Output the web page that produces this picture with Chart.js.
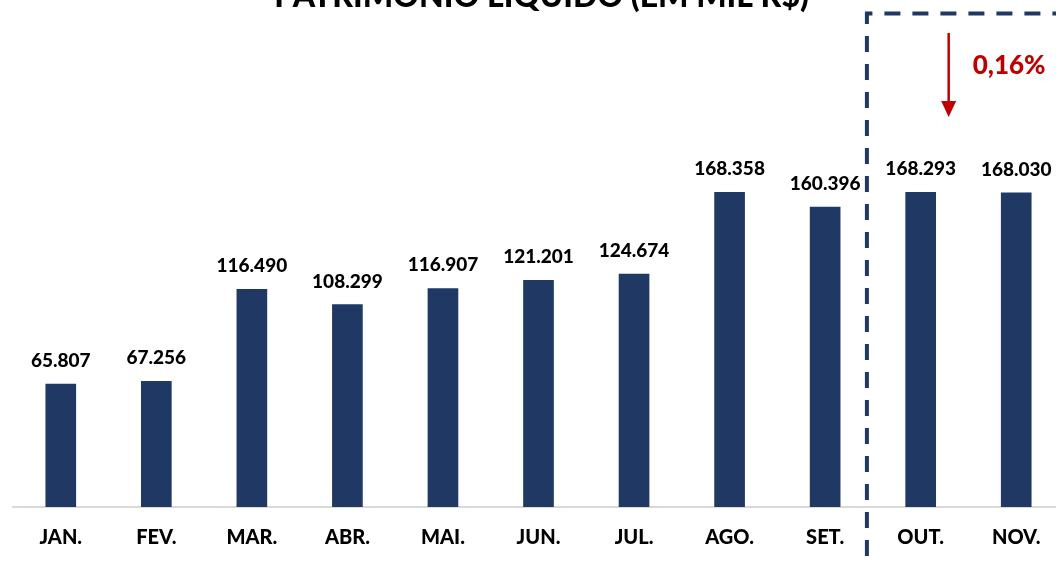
<!DOCTYPE html>
<html>
<head>
<meta charset="utf-8">
<script src="https://cdn.jsdelivr.net/npm/chart.js@4.4.1/dist/chart.umd.min.js"></script>
<style>
  html, body { margin: 0; padding: 0; background: #ffffff; overflow: hidden; }
  #wrap { position: absolute; left: 0; top: 0; width: 1064px; height: 567px; }
</style>
</head>
<body>
<div id="wrap"><canvas id="c" width="1064" height="567"></canvas></div>
<script>
const title = "PATRIMÔNIO LÍQUIDO (EM MIL R$)";
const categories = ["JAN.", "FEV.", "MAR.", "ABR.", "MAI.", "JUN.", "JUL.", "AGO.", "SET.", "OUT.", "NOV."];
const values = [65807, 67256, 116490, 108299, 116907, 121201, 124674, 168358, 160396, 168293, 168030];
const valueLabels = ["65.807", "67.256", "116.490", "108.299", "116.907", "121.201", "124.674", "168.358", "160.396", "168.293", "168.030"];
const changeLabel = "0,16%";
const highlightStart = 9; // first category inside dashed box

const NAVY = "#203864";
const RED = "#c00000";
const FONT = "Lato, 'Open Sans', sans-serif";
const W = "900";

const overlay = {
  id: "overlay",
  afterDatasetsDraw(chart) {
    const ctx = chart.ctx;
    const meta = chart.getDatasetMeta(0);
    const xs = chart.scales.x;
    const area = chart.chartArea;
    ctx.save();
    // value labels
    ctx.fillStyle = "#000000";
    ctx.font = W + " 19px " + FONT;
    ctx.textAlign = "center";
    ctx.textBaseline = "alphabetic";
    meta.data.forEach((bar, i) => {
      ctx.fillText(valueLabels[i], bar.x, bar.y - 17);
    });
    // title (mostly cut off at top)
    ctx.font = W + " 32px " + FONT;
    ctx.fillText(title, (area.left + area.right) / 2 + 3, 7);
    // dashed box
    const bx = xs.getPixelForValue(highlightStart - 0.5) - 6;
    const topY = 13.5;
    ctx.strokeStyle = NAVY;
    ctx.lineWidth = 4;
    ctx.setLineDash([16, 12]);
    ctx.beginPath();
    ctx.moveTo(bx, 556);
    ctx.lineTo(bx, topY);
    ctx.lineTo(chart.width + 5, topY);
    ctx.stroke();
    ctx.setLineDash([]);
    // arrow
    const ax = meta.data[highlightStart].x + 28;
    ctx.strokeStyle = RED;
    ctx.fillStyle = RED;
    ctx.lineWidth = 2.5;
    ctx.beginPath();
    ctx.moveTo(ax, 33);
    ctx.lineTo(ax, 102);
    ctx.stroke();
    ctx.beginPath();
    ctx.moveTo(ax - 7.5, 101);
    ctx.lineTo(ax + 7.5, 101);
    ctx.lineTo(ax, 117);
    ctx.closePath();
    ctx.fill();
    // change label
    ctx.font = W + " 26px " + FONT;
    ctx.textAlign = "left";
    ctx.textBaseline = "middle";
    ctx.fillText(changeLabel, ax + 24, 66);
    ctx.restore();
  }
};

new Chart(document.getElementById("c"), {
  type: "bar",
  data: {
    labels: categories,
    datasets: [{
      data: values,
      backgroundColor: NAVY,
      borderWidth: 0,
      barThickness: 30
    }]
  },
  options: {
    responsive: false,
    animation: false,
    layout: { padding: { left: 13, right: 0, top: 0, bottom: 0 } },
    plugins: { legend: { display: false }, tooltip: { enabled: false }, title: { display: false } },
    scales: {
      x: {
        grid: { display: false, drawTicks: false },
        border: { display: true, color: "#d9d9d9", width: 2 },
        ticks: { color: "#000000", font: { family: FONT, size: 20, weight: W }, padding: 19, maxRotation: 0, autoSkip: false },
        afterFit(scale) { scale.height = 60; }
      },
      y: {
        display: false,
        min: 0,
        max: 271240
      }
    }
  },
  plugins: [overlay]
});
</script>
</body>
</html>
